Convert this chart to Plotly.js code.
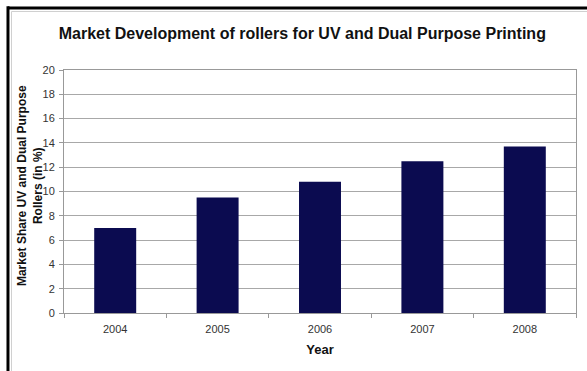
<!DOCTYPE html>
<html>
<head>
<meta charset="utf-8">
<script src="https://cdn.plot.ly/plotly-3.0.1.min.js"></script>
<style>html,body{margin:0;padding:0;background:#fff;}#chart{width:587px;height:371px;}</style>
</head>
<body>
<div id="chart"></div>
<script>
const years = ["2004", "2005", "2006", "2007", "2008"];
const marketShare = [7.0, 9.5, 10.8, 12.5, 13.7];
const yTicks = [0, 2, 4, 6, 8, 10, 12, 14, 16, 18, 20];

const trace = {
  type: "bar",
  x: years,
  y: marketShare,
  marker: {color: "#0b0b50", line: {width: 0}},
  hoverinfo: "x+y"
};

const layout = {
  width: 587, height: 371,
  margin: {l: 64, r: 11, t: 70, b: 58},
  paper_bgcolor: "#ffffff",
  plot_bgcolor: "#ffffff",
  bargap: 0.59,
  showlegend: false,
  font: {family: "Liberation Sans, Arial, sans-serif", color: "#222"},
  title: {
    text: "<b>Market Development of rollers for UV and Dual Purpose Printing</b>",
    font: {size: 16, color: "#111"},
    x: 0.515, xanchor: "center", y: 0.91, yanchor: "middle"
  },
  xaxis: {
    type: "category",
    tickson: "boundaries",
    ticks: "outside", ticklen: 4, tickcolor: "#999",
    ticklabelstandoff: 6,
    showline: true, linecolor: "#999", linewidth: 1, mirror: true,
    showgrid: false,
    tickfont: {size: 11, color: "#333"},
    title: {text: "<b>Year</b>", font: {size: 13, color: "#111"}, standoff: 10}
  },
  yaxis: {
    range: [0, 20],
    tickvals: yTicks,
    ticks: "outside", ticklen: 4, tickcolor: "#999",
    ticklabelstandoff: 2,
    showline: true, linecolor: "#999", linewidth: 1, mirror: true,
    showgrid: true, gridcolor: "#a8a8a8", gridwidth: 1,
    zeroline: false,
    tickfont: {size: 11, color: "#333"}
  },
  annotations: [{
    text: "<b>Market Share UV and Dual Purpose<br>Rollers (in %)</b>",
    xref: "paper", yref: "paper",
    x: -0.066, y: 0.523, xanchor: "center", yanchor: "middle",
    textangle: -90, showarrow: false,
    font: {size: 12, color: "#111"}
  }],
  shapes: [
    {type: "line", xref: "paper", yref: "paper", x0: -0.1094, x1: -0.1094, y0: 1.262, y1: -0.3,
     line: {color: "#000", width: 3}},
    {type: "line", xref: "paper", yref: "paper", x0: -0.1094, x1: 1.05, y0: 1.255, y1: 1.255,
     line: {color: "#000", width: 3}},
    {type: "line", xref: "paper", yref: "paper", x0: -0.1025, x1: -0.1025, y0: 1.2407, y1: -0.3,
     line: {color: "#d0d0d0", width: 1}},
    {type: "line", xref: "paper", yref: "paper", x0: -0.1025, x1: 1.05, y0: 1.2407, y1: 1.2407,
     line: {color: "#d0d0d0", width: 1}}
  ]
};

Plotly.newPlot("chart", [trace], layout, {displayModeBar: false, staticPlot: true});
</script>
</body>
</html>
